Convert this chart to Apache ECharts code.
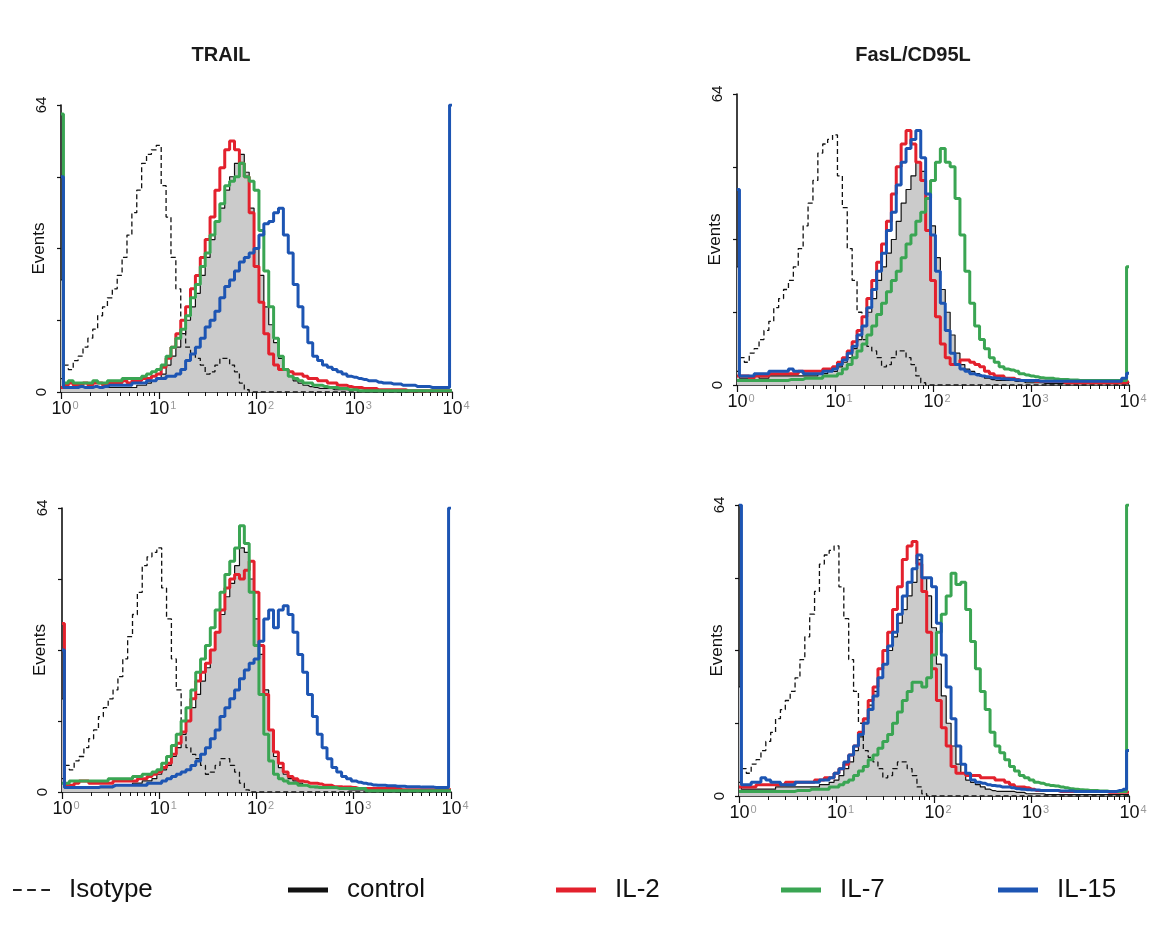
<!DOCTYPE html>
<html><head><meta charset="utf-8">
<script src="https://cdn.jsdelivr.net/npm/echarts@6/dist/echarts.min.js"></script>
<style>html,body{margin:0;padding:0;background:#fff}#c{width:1153px;height:927px}</style>
</head><body><div id="c"></div>
<script>
// channel positions, in decades of fluorescence (10^e)
const decades = [0,0.05,0.1,0.15,0.2,0.25,0.3,0.35,0.4,0.45,
 0.5,0.55,0.6,0.65,0.7,0.75,0.8,0.85,0.9,0.95,
 1,1.05,1.1,1.15,1.2,1.25,1.3,1.35,1.4,1.45,
 1.5,1.55,1.6,1.65,1.7,1.75,1.8,1.85,1.9,1.95,
 2,2.05,2.1,2.15,2.2,2.25,2.3,2.35,2.4,2.45,
 2.5,2.55,2.6,2.65,2.7,2.75,2.8,2.85,2.9,2.95,
 3,3.05,3.1,3.15,3.2,3.25,3.3,3.35,3.4,3.45,
 3.5,3.55,3.6,3.65,3.7,3.75,3.8,3.85,3.9,3.95,
 4];
const xTickLabels = [1,10,100,1000,10000];
const xMinorTicks = [1,2,3,4,5,6,7,8,9,10,20,30,40,50,60,70,80,90,100,200,300,400,500,600,700,800,900,1000,2000,3000,4000,5000,6000,7000,8000,9000,10000];
const yTickLabels = [0,64];
const panelTitles = ['TRAIL','FasL/CD95L'];
const seriesNames = ['Isotype','control','IL-2','IL-7','IL-15'];

const isotype = [3,6,5,7,8,10,12,14,17,19,
 21,23,26,30,35,40,45,51,53,54,
 55,46,39,30,23,16,10,8.5,7.5,6,
 4,4.5,6,7.5,7.5,6,4.5,2,0.5,0,
 0,0,0,0,0,0,0,0,0,0,
 0,0,0,0,0,0,0,0,0,0,
 0,0,0,0,0,0,0,0,0,0,
 0,0,0,0,0,0,0,0,0,0,
 0];

// TRAIL, top row
const trailTopControl = [25,1,1,1,1,1,1,1,1,1,
 1,1,1,1,1,1,1.5,1.5,2,2.5,
 3,4,6,8,10,13,16,19,22,26,
 30,34,38,41,45,48,51,53,49,41,
 32,26,19,15,11,7.5,5,3.5,2.5,2,
 1.5,1.2,1,0.8,0.8,0.8,0.5,0.5,0.5,0.5,
 0.5,0.3,0.3,0.3,0.3,0.3,0.3,0.3,0.3,0.3,
 0.3,0.3,0.3,0.3,0.3,0.3,0.3,0.3,0.3,0.3,
 0.3];
const trailTopIL2 = [1,1.5,2,1.5,1.5,2,1.5,2,2,1.5,
 2,2,2,2.5,2,2.5,2.5,3,3,3.5,
 4,5.5,7.5,10,13,16,19,23,26,30,
 34,39,45,50,54,56,54,51,48,40,
 28,20,13,8.5,6,5,5,4.5,4,4,
 3.5,3,3,2.5,2.5,2,2,1.5,1.5,1.2,
 1,1,0.8,0.8,0.8,0.5,0.5,0.5,0.5,0.5,
 0.5,0.3,0.3,0.3,0.3,0.3,0.3,0.3,0.3,0.3,
 0.3];
const trailTopIL7 = [62,2,2.5,2,2,2,2,2.5,2,2,
 2.5,2.5,2.5,3,3,3,3,3.5,4,4.5,
 5,6,8,10,12,14,17,21,24,28,
 31,35,38,42,46,47,48,51,48,47,
 45,36,27,19,12,8,5,3.5,3,2.5,
 2,2,1.5,1.5,1.2,1,1,0.8,0.8,0.5,
 0.5,0.3,0.3,0.3,0.3,0.3,0.3,0.3,0.3,0.3,
 0.3,0.3,0.3,0.3,0.3,0.3,0.3,0.3,0.3,0.3,
 0.3];
const trailTopIL15 = [48,1,1,1,1.2,1,1,1.2,1,1.2,
 1.5,1.5,1.5,1.5,1.5,2,2,2,2.5,2.5,
 3,3,3.5,3.5,4,5,7,8.5,10,12,
 14.5,16,18,21,23.5,25,27,29,30,31,
 32,35,37.5,38,40,41,35,31,24,19,
 14.5,11,8,7,6,5.5,5,4.5,4,3.5,
 3.3,3,2.8,2.5,2.5,2.2,2,2,1.8,1.8,
 1.5,1.5,1.5,1.2,1.2,1.2,1,1,1,1,
 64];

// FasL/CD95L, top row
const faslTopControl = [26,1.5,1.5,1.5,2,1.5,1.5,2,2,2,
 2,2,2,2,2,2,2,2.5,2.5,3,
 3,4,5,6,8,10,13,16,19,23,
 26,29,32,36,40,43,46,49,47,42,
 35,28,21,16,11,7,4.5,3.5,3,2.5,
 2,1.5,1.2,1,1,1,1,0.8,0.8,0.5,
 0.5,0.5,0.5,0.3,0.3,0.3,0.3,0.3,0.3,0.3,
 0.3,0.3,0.3,0.3,0.3,0.3,0.3,0.3,0.3,0.3,
 0.3];
const faslTopIL2 = [2,2,2,1.5,2,2,2,2.5,2.5,2.5,
 2.5,2.5,2.5,3,3,3,3,3,3.5,3.5,
 4,5,6,7.5,9.5,12,15,19,23,27,
 31,36,42,48,53,56,53,49,45,34,
 23,15,9,6,4.5,4.5,5.5,5.5,5,4.5,
 4,3,2.5,2,2,1.5,1.5,1.2,1,1,
 1,0.8,0.8,0.8,0.8,0.8,0.8,0.5,0.5,0.5,
 0.5,0.5,0.5,0.5,0.5,0.5,0.5,0.5,0.5,0.5,
 0.8];
const faslTopIL7 = [1,1,1,1,1,1,1,1,1,1,
 1,1.2,1.2,1.2,1.5,1.5,1.5,1.5,2,2,
 2,2.5,3.5,4.5,6,7.5,9,11,13,15.5,
 18,20.5,23,25,28,31,33,36,38,41,
 45,49,52,49,48,41,33,25,18,13,
 10,8,6,5,4,3.5,3.3,3,2.5,2.2,
 2,1.8,1.6,1.5,1.5,1.3,1.2,1.2,1.1,1.1,
 1,1,1,1,1,1,1,1,1,1,
 26];
const faslTopIL15 = [43,2,2,2,2.5,2.5,2.5,3,3,3,
 3,3.5,3,3,2.5,2.5,2.5,2.5,3,3,
 3.5,4.5,5.5,7,8.5,11,13,17,21,25,
 29,34,38,44,49,52,54,56,50,42,
 33,25,18,12,7,4.5,3.5,3,2.5,2.2,
 2,1.8,1.6,1.5,1.4,1.3,1.2,1.1,1,1,
 1,1,0.8,0.8,0.8,0.8,0.8,0.8,0.8,0.8,
 0.8,0.8,0.8,0.8,0.8,0.8,0.8,0.8,0.8,1.5,
 2.6];

// TRAIL, bottom row
const trailBottomControl = [21,1,1,1,1,1,1,1,1,1,
 1,1.5,1.5,1.5,1.5,2,2,2.5,2.5,3,
 4,5,6,8,10,13,16,19,22,25,
 28,32,36,40,44,47,51,55,54,48,
 39,31,23,14,8,5.5,4,3,2.5,2,
 1.5,1.2,1,1,1,1,1,0.8,0.8,0.5,
 0.5,0.5,0.5,0.3,0.3,0.3,0.3,0.3,0.3,0.3,
 0.3,0.3,0.3,0.3,0.3,0.3,0.3,0.3,0.3,0.3,
 0.3];
const trailBottomIL2 = [38,1.5,1.5,2,2.5,2.5,2,2,2,2,
 2,2.5,2.5,2.5,2.5,2.5,3,3,3.5,4,
 4.5,5.5,6.5,8.5,11,13.5,16,21,25,27,
 29,32,36,41,46,48,49,48,50,52,
 45,33,22,14,9,6.5,4.5,3.5,3,2.5,
 2.3,2,2,1.8,1.5,1.5,1.2,1.2,1.1,1.1,
 1,0.8,0.8,0.8,0.8,0.8,0.8,0.8,0.8,0.8,
 0.5,0.5,0.5,0.5,0.5,0.5,0.5,0.5,0.5,0.5,
 0.5];
const trailBottomIL7 = [2,2,2.5,2.5,2.5,2.5,2.5,2.5,2.5,2.5,
 3,3,3,3,3,3.5,3.5,4,4,4.5,
 5,6.5,8,10.5,13,16,19,23,27,30,
 33,37,41,45,49,52,55,60,56,45,
 33,22,13,7,4,3,2.5,2,2,1.5,
 1.5,1.2,1.2,1,1,1,1,0.8,0.8,0.8,
 0.8,0.8,0.8,0.3,0.3,0.3,0.3,0.3,0.3,0.3,
 0.3,0.3,0.3,0.3,0.3,0.3,0.3,0.3,0.3,0.3,
 0.3];
const trailBottomIL15 = [32,1,1,1,1,1,1,1,1.2,1.2,
 1.2,1.5,1.5,1.5,1.5,1.5,1.5,1.5,2,2,
 2,2.5,3,3.5,4,4.5,5,6,7,8.5,
 10,12,14,17,19,21,23,25.5,27.5,29,
 30,34,39,41,37,41,42,40,36,31,
 27,22,17,13,10,7.5,5.5,4.5,3.5,3,
 2.5,2.2,2,1.8,1.6,1.5,1.5,1.4,1.4,1.3,
 1.3,1.2,1.2,1.2,1.1,1.1,1.1,1,1,1,
 64];

// FasL/CD95L, bottom row
const faslBottomControl = [24,1.5,1.5,1.5,1.5,1.5,1.5,1.5,2,2,
 2,2,2,2,2,2,2,2.5,2.5,3,
 3.5,4.5,6,7.5,10,13,17,20,23,26,
 29,32,35,38,41,44,47,52,48,44,
 37,29,22,16,11,7,5,3.5,3,2.5,
 2,1.5,1.2,1,1,1,1,0.8,0.8,0.5,
 0.5,0.5,0.5,0.3,0.3,0.3,0.3,0.3,0.3,0.3,
 0.3,0.3,0.3,0.3,0.3,0.3,0.3,0.3,0.3,0.3,
 0.3];
const faslBottomIL2 = [2,2,2,2,2.5,2.5,2.5,2.5,2.5,2.5,
 3,3,3,3,3,3,3.5,3.5,4,4,
 5,6,7,9,11,14,17,21,24,28,
 32,36,41,46,52,55,56,51,45,36,
 28,21,15,11,6.5,5,5,4.5,4.5,4.5,
 4,4,4,3.5,3.5,3,2.5,2,2,1.8,
 1.5,1.2,1.2,1.2,1.2,1.2,1,1,1,1,
 1,1,1,1,1,1,0.8,0.8,0.8,0.8,
 0.8];
const faslBottomIL7 = [1,1,1,1,1,1,1,1,1,1,
 1,1,1.2,1.2,1.2,1.5,1.5,1.5,1.5,2,
 2,2.5,3,3.5,4.5,5.5,6.5,8,9,10.5,
 12,13.5,16,18.5,21,23,25,25,24,26,
 31,36,40,44,49,46.5,47,41,34,28,
 23,19,14,11,9.5,8,6.5,5.5,4.5,4,
 3.5,3,2.8,2.5,2.3,2.2,2,1.8,1.6,1.5,
 1.4,1.3,1.2,1.2,1.1,1.1,1,1,1,1,
 64];
const faslBottomIL15 = [64,2.5,2.5,3,3,4,3.5,3,3,2.5,
 2.5,2.5,3,3,3,3,3,3.5,3.5,4,
 5,6,7.5,9,11,13.5,16,19,22,26,
 29,33,36,40,44,47,50,53,48,48,
 46,38,31,24,17,11,7,5,3.5,3,
 2.8,2.5,2.3,2.2,2,2,1.8,1.6,1.5,1.4,
 1.3,1.3,1.2,1.2,1.2,1.2,1.1,1.1,1.1,1,
 1,1,1,1,1,1,1,1,1.2,1.5,
 10];

const FONT = 'Liberation Sans, Arial, Helvetica, sans-serif';
const panels = [
  {grid:{left:61, top:105, width:391, height:287}, data:[isotype, trailTopControl, trailTopIL2, trailTopIL7, trailTopIL15]},
  {grid:{left:737, top:94, width:392, height:291}, data:[isotype, faslTopControl, faslTopIL2, faslTopIL7, faslTopIL15]},
  {grid:{left:62, top:508, width:389, height:284}, data:[isotype, trailBottomControl, trailBottomIL2, trailBottomIL7, trailBottomIL15]},
  {grid:{left:739, top:505, width:390, height:291}, data:[isotype, faslBottomControl, faslBottomIL2, faslBottomIL7, faslBottomIL15]}
];
const styles = {
  'Isotype': {color:'#111', width:1.3, type:[5,3], z:3},
  'control': {color:'#111', width:1.2, type:'solid', z:2, area:'#cbcbcb'},
  'IL-2': {color:'#e3212d', width:3, type:'solid', z:4},
  'IL-7': {color:'#3aa553', width:3, type:'solid', z:5},
  'IL-15': {color:'#1d55b3', width:3, type:'solid', z:6}
};
function toPairs(vals){ return decades.map((e,i)=>[Math.pow(10,e), vals[i]]); }

const grids=[], xAxes=[], yAxes=[], series=[];
panels.forEach((p,k)=>{
  grids.push(p.grid);
  xAxes.push({type:'log', logBase:10, gridIndex:k, min:1, max:10000, position:'bottom',
    axisLine:{show:true, lineStyle:{color:'#111', width:1.6}},
    axisTick:{show:true, customValues:xMinorTicks, length:4, lineStyle:{color:'#111', width:1}},
    splitLine:{show:false}, minorTick:{show:false},
    axisLabel:{customValues:xTickLabels, margin:8, padding:[0,0,0,8],
      formatter:v=>'{b|10}{s|'+Math.round(Math.log10(v))+'}',
      rich:{b:{fontSize:18, color:'#111', fontFamily:FONT},
            s:{fontSize:11, color:'#9a9a9a', fontFamily:FONT, verticalAlign:'top', padding:[0,0,6,1]}}}
  });
  xAxes.push({type:'log', logBase:10, gridIndex:k, min:1, max:10000, position:'bottom',
    axisLine:{show:false}, axisLabel:{show:false}, splitLine:{show:false},
    axisTick:{show:true, customValues:xTickLabels, length:7, lineStyle:{color:'#111', width:1.2}}
  });
  yAxes.push({type:'value', gridIndex:k, min:0, max:64, interval:16,
    axisLine:{show:true, lineStyle:{color:'#111', width:1.6}},
    axisTick:{show:true, length:4, lineStyle:{color:'#111', width:1.2}},
    splitLine:{show:false},
    axisLabel:{customValues:yTickLabels, rotate:90, margin:12, fontSize:15, color:'#111', fontFamily:FONT},
    name:'Events', nameLocation:'middle', nameRotate:90, nameGap:13, nameMoveOverlap:false,
    nameTextStyle:{fontSize:17, color:'#111', fontFamily:FONT}
  });
  seriesNames.forEach((nm,j)=>{
    const st = styles[nm];
    const s = {name:nm, type:'line', step:'middle', xAxisIndex:2*k, yAxisIndex:k,
      data:toPairs(p.data[j]), symbol:'none', showSymbol:false, color:st.color, z:st.z,
      lineStyle:{color:st.color, width:st.width, type:st.type}, emphasis:{disabled:true}, silent:true};
    if (st.area) s.areaStyle = {color:st.area, opacity:1};
    series.push(s);
  });
});

const legendPos = [8, 283, 551, 776, 993];
const legends = seriesNames.map((nm,i)=>{
  const item = {name:nm, icon:'rect', itemStyle:{color:styles[nm].color}};
  let w = 40, h = 5;
  if (nm==='Isotype') { item.icon = 'path://M0 0H8V2H0Z M13 0H21V2H13Z M26 0H34V2H26Z'; item.itemStyle = {color:'#222'}; w = 37; h = 2.2; }
  return {data:[item], left:legendPos[i], top:872, orient:'horizontal',
    itemWidth:w, itemHeight:h, selectedMode:false,
    textStyle:{fontSize:26, color:'#111', fontFamily:FONT, padding:[0,0,0,14]}};
});

const chart = echarts.init(document.getElementById('c'), null, {renderer:'canvas'});
chart.setOption({
  animation:false,
  backgroundColor:'#fff',
  title:[
    {text:panelTitles[0], left:216, top:40, textAlign:'center', textStyle:{fontSize:20, fontWeight:'bold', color:'#1a1a1a', fontFamily:FONT}},
    {text:panelTitles[1], left:908, top:40, textAlign:'center', textStyle:{fontSize:20, fontWeight:'bold', color:'#1a1a1a', fontFamily:FONT}}
  ],
  legend:legends,
  grid:grids, xAxis:xAxes, yAxis:yAxes, series:series
});
</script></body></html>
